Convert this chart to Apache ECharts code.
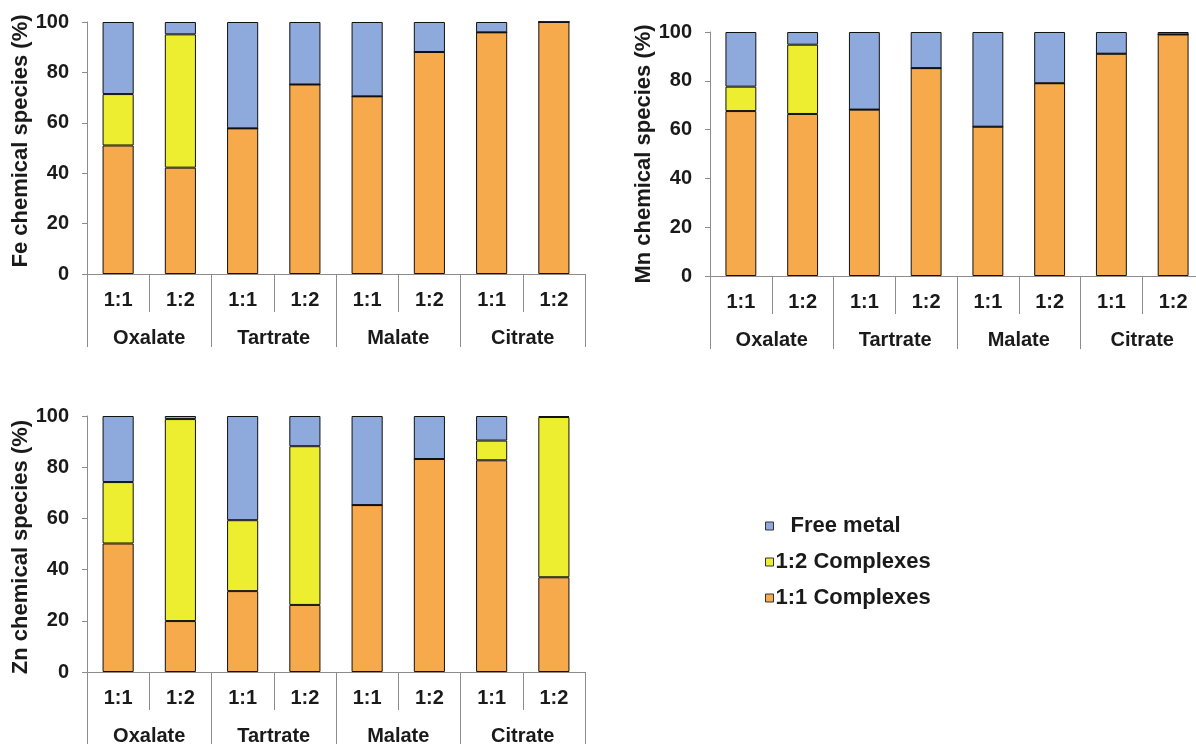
<!DOCTYPE html>
<html>
<head>
<meta charset="utf-8">
<script src="https://cdn.jsdelivr.net/npm/echarts@6/dist/echarts.min.js"></script>
<style>
  html, body { margin: 0; padding: 0; background: #fff; }
  #chart { width: 1196px; height: 744px; }
</style>
</head>
<body>
<div id="chart"></div>
<script>
// Metal:ligand ratios (inner category level) and ligands (outer level)
const ratios = ['1:1', '1:2', '1:1', '1:2', '1:1', '1:2', '1:1', '1:2'];
const ligands = ['Oxalate', 'Tartrate', 'Malate', 'Citrate'];
const yTicks = [0, 20, 40, 60, 80, 100];

// Species distribution (%) per ligand/ratio
const fe11 = [51.0, 42.2, 57.8, 75.2, 70.5, 88.1, 95.9, 100];
const fe12 = [20.4, 52.9, 0, 0, 0, 0, 0, 0];
const feFree = [28.6, 4.9, 42.2, 24.8, 29.5, 11.9, 4.1, 0];

const mn11 = [67.6, 66.4, 68.2, 85.2, 61.2, 79.0, 91.1, 99.0];
const mn12 = [10.0, 28.4, 0, 0, 0, 0, 0, 0];
const mnFree = [22.4, 5.2, 31.8, 14.8, 38.8, 21.0, 8.9, 1.0];

const zn11 = [50.2, 19.9, 31.6, 26.2, 65.2, 83.2, 82.7, 37.0];
const zn12 = [24.0, 78.9, 27.7, 62.0, 0, 0, 7.7, 62.6];
const znFree = [25.8, 1.2, 40.7, 11.8, 34.8, 16.8, 9.6, 0.4];

const seriesNames = ['1:1 Complexes', '1:2 Complexes', 'Free metal'];
const colors = ['#F6AA4C', '#EEEE30', '#8EA9DB'];

const FONT = 'Liberation Sans, Arial, sans-serif';
const AXIS_GRAY = '#8c8c8c';
const TEXT = '#1a1a1a';

// namePad shifts the rotated axis title along the axis
const panels = [
  { name: 'Fe chemical species (%)', namePad: [0, 0, 0, 14], data: [fe11, fe12, feFree], grid: { left: 87, top: 22, width: 498, height: 252 } },
  { name: 'Mn chemical species (%)', namePad: [0, 0, 0, 0], data: [mn11, mn12, mnFree], grid: { left: 710, top: 32, width: 494, height: 244 } },
  { name: 'Zn chemical species (%)', namePad: [0, 6, 0, 0], data: [zn11, zn12, znFree], grid: { left: 87, top: 416, width: 498, height: 256 } }
];

const labelFont = { color: TEXT, fontFamily: FONT, fontWeight: 'bold', fontSize: 20 };

const grid = [], xAxis = [], yAxis = [], series = [];
panels.forEach((p, i) => {
  grid.push(Object.assign({ containLabel: false, outerBoundsMode: 'none' }, p.grid));
  // inner level: ratio labels with short separators
  xAxis.push({
    type: 'category', gridIndex: i, position: 'bottom', data: ratios,
    axisLine: { show: true, lineStyle: { color: AXIS_GRAY, width: 1 } },
    axisTick: { show: true, length: 38, interval: 0, lineStyle: { color: AXIS_GRAY } },
    axisLabel: Object.assign({ interval: 0, margin: 16 }, labelFont)
  });
  // outer level: ligand labels with long separators
  xAxis.push({
    type: 'category', gridIndex: i, position: 'bottom', data: ligands,
    axisLine: { show: false },
    axisTick: { show: true, length: 73, interval: 0, lineStyle: { color: AXIS_GRAY } },
    axisLabel: Object.assign({ interval: 0, margin: 54 }, labelFont)
  });
  yAxis.push({
    type: 'value', gridIndex: i, min: yTicks[0], max: yTicks[yTicks.length - 1], interval: yTicks[1] - yTicks[0],
    name: p.name, nameLocation: 'middle', nameGap: 53,
    nameTextStyle: { color: TEXT, fontFamily: FONT, fontWeight: 'bold', fontSize: 22, padding: p.namePad },
    axisLine: { show: true, lineStyle: { color: AXIS_GRAY, width: 1 } },
    axisTick: { show: true, length: 5, lineStyle: { color: AXIS_GRAY } },
    splitLine: { show: false },
    axisLabel: Object.assign({ margin: 18 }, labelFont)
  });
  p.data.forEach((vals, k) => {
    series.push({
      type: 'bar', name: seriesNames[k], xAxisIndex: i * 2, yAxisIndex: i,
      stack: 'panel' + i, barWidth: '50%', data: vals,
      itemStyle: { color: colors[k], borderColor: '#111', borderWidth: 1 },
      emphasis: { disabled: true }
    });
  });
});

const chart = echarts.init(document.getElementById('chart'), null, { renderer: 'canvas' });
chart.setOption({
  backgroundColor: '#ffffff',
  animation: false,
  grid, xAxis, yAxis, series,
  legend: {
    data: ['Free metal', '1:2 Complexes', '1:1 Complexes'],
    orient: 'vertical', left: 760, top: 510,
    icon: 'rect', itemWidth: 8, itemHeight: 8, itemGap: 14,
    itemStyle: { borderColor: '#333', borderWidth: 1 },
    formatter: n => n === 'Free metal' ? '{pad|' + n + '}' : n,
    textStyle: {
      color: TEXT, fontFamily: FONT, fontWeight: 'bold', fontSize: 22, lineHeight: 22,
      padding: [0, 0, 0, -3],
      rich: { pad: { padding: [0, 0, 0, 15], color: TEXT, fontFamily: FONT, fontWeight: 'bold', fontSize: 22 } }
    },
    selectedMode: false
  }
});
</script>
</body>
</html>
